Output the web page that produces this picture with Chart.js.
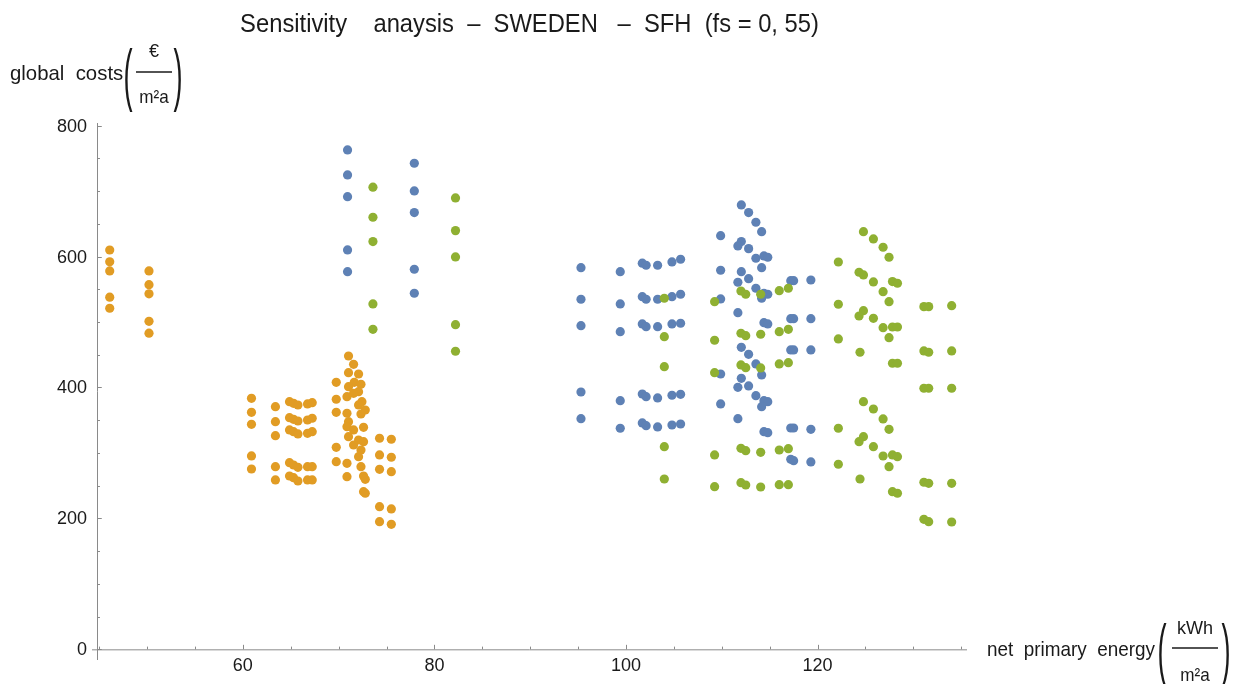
<!DOCTYPE html>
<html><head><meta charset="utf-8">
<script src="https://cdn.jsdelivr.net/npm/chart.js@4"></script>
<style>html,body{margin:0;padding:0;background:#fff}canvas{display:block}</style>
</head><body>
<canvas id="c" width="1239" height="684"></canvas>
<script>
// ---------- DATA ----------
const titleText = "Sensitivity    anaysis  \u2013  SWEDEN   \u2013  SFH  (fs = 0, 55)";
const yLabelText = "global  costs";
const xLabelText = "net  primary  energy";
const xTickLabels = [60, 80, 100, 120];
const xMinorTicks = [45, 50, 55, 60, 65, 70, 75, 80, 85, 90, 95, 100, 105, 110, 115, 120, 125, 130, 135];
const yTickLabels = [0, 200, 400, 600, 800];
const yMinorTicks = [0, 50, 100, 150, 200, 250, 300, 350, 400, 450, 500, 550, 600, 650, 700, 750, 800];

const blueX = [70.93,70.93,70.93,70.93,70.93, 77.9,77.9,77.9,77.9,77.9,
  95.3,95.3,95.3,95.3,95.3, 99.4,99.4,99.4,99.4,99.4, 101.7,101.7,101.7,101.7,101.7,
  102.1,102.1,102.1,102.1,102.1, 103.3,103.3,103.3,103.3,103.3, 104.8,104.8,104.8,104.8,104.8,
  105.7,105.7,105.7,105.7,105.7,
  112.04,112.8,113.56,114.16,109.88,112.04,111.68,112.8,113.56,114.4,114.8,109.88,112.04,111.68,112.8,
  114.16,113.56,114.4,114.8,114.16,109.88,117.2,117.5,119.3,111.68,114.4,114.8,117.2,117.5,119.3,
  112.04,112.8,113.56,114.16,109.88,117.2,117.5,119.3,112.04,111.68,112.8,113.56,114.4,114.8,114.16,
  109.88,111.68,114.4,114.8,117.2,117.5,119.3,117.2,117.5,119.3];
const blueY = [762.9,724.7,691.5,610.1,576.9, 742.5,700.2,667.1,580.6,543.9,
  583,534.8,494.4,393.1,352.3, 576.9,527.6,485.3,379.8,337.7, 589.8,538.7,497,390,345.8,
  586.7,534.8,492.9,386,341.6, 586.7,534.8,492.9,384,339.7, 591.8,538.7,497,388.1,342.7,
  595.9,542.4,498.1,389.6,344.2,
  678.8,667.1,652.4,638.0,631.9,622.8,616.2,612.1,597.4,600.9,598.9,579.1,576.9,560.7,566.2,
  583.0,551.6,543.9,542.4,536.3,535.2,563.2,563.2,564.2,514.3,499,497,505.1,505.1,505.1,
  461.4,450.7,435.9,419.1,420.6,457.3,457.3,457.3,414,400.3,402.3,387.5,379.8,378.3,370.7,
  374.8,352.3,332.5,330.9,338.1,338.1,336.1,290.3,288.2,286.2];

const orangeX = [46.1,46.1,46.1,46.1,46.1, 50.2,50.2,50.2,50.2,50.2,
  60.9,60.9,60.9,60.9,60.9, 63.4,63.4,63.4,63.4,63.4,
  64.87,64.87,64.87,64.87,64.87, 65.29,65.29,65.29,65.29,65.29, 65.75,65.75,65.75,65.75,65.75,
  66.75,66.75,66.75,66.75,66.75, 67.24,67.24,67.24,67.24,67.24,
  71.03,71.56,71.03,72.08,69.75,71.63,72.33,71.03,72.08,71.56,70.87,69.75,72.43,72.08,72.78,
  69.75,70.87,72.33,71.03,70.87,72.6,71.56,71.03,72.08,72.6,71.56,72.33,69.75,72.08,69.75,
  70.87,72.33,70.87,72.6,72.78,72.6,72.78,
  74.27,74.27,74.27,74.27,74.27, 75.5,75.5,75.5,75.5,75.5];
const orangeY = [610,592,578,538,521, 578,557,543,501,483,
  383.5,362,343.7,295.4,275.5, 370.7,347.8,326.4,279,258.7,
  378.3,353.9,335.1,285.1,264.8, 375.8,351.4,332.5,281.6,262.2, 373.2,348.8,329,278,257.1,
  374.8,350.3,330,279,258.7, 376.8,353,332.5,279,258.7,
  448.1,435.4,422.6,420.6,407.9,407.9,404.9,401.2,393.6,391.1,385.9,382,378.3,373.3,365.6,
  362.1,360.6,359.5,347.7,340.1,339.2,335.1,324.8,319.8,317.2,312.1,304.5,308.6,294.3,286.6,
  284.2,279,263.7,264.8,259.7,240.8,238.4,
  322.4,296.9,275,217.9,195, 320.9,293.4,271.4,214.4,191];

const greenX = [73.58,73.58,73.58,73.58,73.58, 82.2,82.2,82.2,82.2,82.2,
  104.0,104.0,104.0,104.0,104.0, 109.25,109.25,109.25,109.25,109.25, 112.0,112.0,112.0,112.0,112.0,
  112.5,112.5,112.5,112.5,112.5, 114.06,114.06,114.06,114.06,114.06, 116.0,116.0,116.0,116.0,116.0,
  116.95,116.95,116.95,116.95,116.95,
  124.79,125.83,126.84,127.46,122.17,124.33,124.79,125.83,127.82,128.34,126.84,127.46,122.17,124.79,124.33,
  125.83,126.84,127.82,128.34,127.46,122.17,124.43,127.82,128.34,131.1,131.6,134.0,131.1,131.6,134.0,
  131.1,131.6,134.0,124.79,125.83,126.84,127.46,122.17,124.79,124.33,125.83,126.84,127.82,128.34,127.46,
  122.17,124.43,127.82,128.34,131.1,131.6,134.0,131.1,131.6,134.0];
const greenY = [705.9,660,622.8,527.6,488.9, 689.5,639.6,599.4,496,455.3,
  536.3,477.6,431.8,309.5,260.2, 531.1,472.1,422.6,296.9,248.4, 547.4,482.8,434.4,307.1,254.5,
  542.4,479.1,430.3,303.4,251, 542.4,481.3,429.8,301,248, 547.9,485.3,435.9,304.5,251.5,
  551.6,488.9,437.9,306.5,251.5,
  638,626.9,614.2,598.9,591.7,576,571.9,561.2,561.7,559.2,546.4,531.1,527.1,517.3,509.2,
  505.7,491.4,492.4,492.4,476.1,474.1,453.8,437,437,523.5,523.5,525,455.8,453.8,455.8,
  398.8,398.8,398.8,378.3,367.1,351.9,336.1,337.7,324.8,317.2,309.5,295.3,296.9,294.3,279,
  282.7,260.2,240.8,238.4,255.2,253.6,253.6,198.6,195,194.5];

// ---------- CHART ----------
const pts = (xs, ys) => xs.map((x, i) => ({x: x, y: ys[i]}));
const FONT = '"Liberation Sans", Arial, sans-serif';
const AXIS_COLOR = '#8a8a8a';
const TEXT_COLOR = '#1a1a1a';
const Y_AXIS_AT = 44.8;

function txt(ctx, s, x, y, size, hs, align, base) {
  ctx.save();
  ctx.font = size + 'px ' + FONT;
  ctx.fillStyle = TEXT_COLOR;
  ctx.textAlign = align || 'left';
  ctx.textBaseline = base || 'alphabetic';
  ctx.translate(x, y);
  ctx.scale(hs, 1);
  ctx.fillText(s, 0, 0);
  ctx.restore();
}

function unitFraction(ctx, num, cx, top, lineY, bottom, lineHalf, parenL, parenR, parenY, parenSize) {
  txt(ctx, num, cx, top, 19, 0.95, 'center', 'alphabetic');
  txt(ctx, 'm\u00B2a', cx, bottom, 19, 0.9, 'center', 'alphabetic');
  ctx.save();
  ctx.strokeStyle = TEXT_COLOR;
  ctx.lineWidth = 1.3;
  ctx.beginPath();
  ctx.moveTo(cx - lineHalf, lineY);
  ctx.lineTo(cx + lineHalf, lineY);
  ctx.stroke();
  ctx.restore();
  txt(ctx, '(', parenL, parenY, parenSize, 0.4, 'center', 'alphabetic');
  txt(ctx, ')', parenR, parenY, parenSize, 0.4, 'center', 'alphabetic');
}

const axesPlugin = {
  id: 'mmaAxes',
  beforeDatasetsDraw(chart) {
    const ctx = chart.ctx, xs = chart.scales.x, ys = chart.scales.y, a = chart.chartArea;
    const x0 = xs.getPixelForValue(Y_AXIS_AT);
    const y0 = ys.getPixelForValue(0);
    ctx.save();
    ctx.strokeStyle = AXIS_COLOR;
    ctx.lineWidth = 1;
    ctx.beginPath();
    ctx.moveTo(a.left, y0 + 0.5); ctx.lineTo(a.right, y0 + 0.5);
    ctx.moveTo(Math.round(x0) + 0.5, a.top); ctx.lineTo(Math.round(x0) + 0.5, a.bottom);
    xMinorTicks.forEach(v => {
      const p = Math.round(xs.getPixelForValue(v)) + 0.5;
      const len = xTickLabels.includes(v) ? 4.5 : 2.7;
      ctx.moveTo(p, y0); ctx.lineTo(p, y0 - len);
    });
    yMinorTicks.forEach(v => {
      const p = Math.round(ys.getPixelForValue(v)) + 0.5;
      const len = yTickLabels.includes(v) ? 4.5 : 2.7;
      ctx.moveTo(x0, p); ctx.lineTo(x0 + len, p);
    });
    ctx.stroke();
    ctx.restore();
    xTickLabels.forEach(v => txt(ctx, String(v), xs.getPixelForValue(v), 666, 18, 1, 'center', 'middle'));
    yTickLabels.forEach(v => txt(ctx, String(v), 87, ys.getPixelForValue(v) + 1, 18, 1, 'right', 'middle'));
  },
  afterDraw(chart) {
    const ctx = chart.ctx, a = chart.chartArea;
    txt(ctx, titleText, (a.left + a.right) / 2, 32, 25, 0.95, 'center');
    // y axis label
    txt(ctx, yLabelText, 10, 80, 21, 0.97, 'left');
    unitFraction(ctx, '\u20AC', 154, 57, 72, 103, 18, 128, 178, 98, 68);
    // x axis label
    txt(ctx, xLabelText, 987, 656, 21, 0.9, 'left');
    unitFraction(ctx, 'kWh', 1195, 634, 648, 681, 23, 1162, 1226, 673, 68);
  }
};

new Chart(document.getElementById('c'), {
  type: 'scatter',
  data: {
    datasets: [
      {label: 'blue', data: pts(blueX, blueY), backgroundColor: '#5E81B5', order: 3},
      {label: 'orange', data: pts(orangeX, orangeY), backgroundColor: '#E19C24', order: 2},
      {label: 'green', data: pts(greenX, greenY), backgroundColor: '#8FB032', order: 1}
    ]
  },
  options: {
    responsive: false,
    animation: false,
    devicePixelRatio: 1,
    layout: {padding: {left: 92, right: 272, top: 123, bottom: 24}},
    elements: {point: {radius: 4.6, borderWidth: 0, hoverRadius: 4.6}},
    plugins: {legend: {display: false}, tooltip: {enabled: false}, title: {display: false}},
    scales: {
      x: {type: 'linear', min: 44.25, max: 135.6, display: false},
      y: {type: 'linear', min: -16.3, max: 804, display: false}
    }
  },
  plugins: [axesPlugin]
});
</script>
</body></html>
